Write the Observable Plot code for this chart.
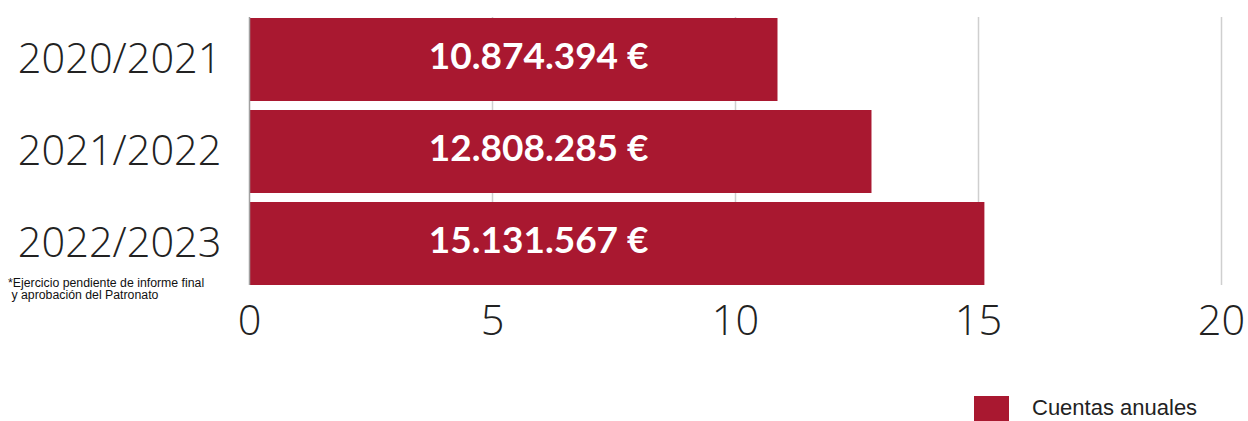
<!DOCTYPE html>
<html>
<head>
<meta charset="utf-8">
<script src="https://cdn.jsdelivr.net/npm/d3@7"></script>
<script src="https://cdn.jsdelivr.net/npm/@observablehq/plot@0.6"></script>
<style>
  body { margin: 0; background: #fff; }
  #wrap { position: relative; width: 1248px; height: 421px; overflow: hidden; }
  #note { position: absolute; left: 8px; top: 277px; font-family: "Liberation Sans", Arial, sans-serif; font-size: 12.3px; line-height: 12px; color: #111; }
  #legend { position: absolute; left: 974px; top: 395px; display: flex; align-items: center; font-family: "Liberation Sans", Arial, sans-serif; font-size: 22px; color: #222; }
  #legend .sw { width: 35px; height: 25px; background: #a91830; margin-right: 23px; }
</style>
</head>
<body>
<div id="wrap">
  <div id="chart"></div>
  <div id="note">*Ejercicio pendiente de informe final<br>&nbsp;y aprobación del Patronato</div>
  <div id="legend"><div class="sw"></div><span>Cuentas anuales</span></div>
</div>
<script>
const years = ["2020/2021", "2021/2022", "2022/2023"];
const values = [10.874394, 12.808285, 15.131567];
const labels = ["10.874.394 €", "12.808.285 €", "15.131.567 €"];
const xTicks = [0, 5, 10, 15, 20];
const labelPos = 5.95;

const data = years.map((y, i) => ({year: y, value: values[i], label: labels[i]}));

const chart = Plot.plot({
  width: 1248,
  height: 370,
  marginLeft: 249,
  marginRight: 27,
  marginTop: 17,
  marginBottom: 85,
  style: {fontFamily: "'Open Sans', sans-serif", background: "transparent"},
  x: {domain: [0, 20], ticks: xTicks, label: null},
  y: {domain: years, paddingInner: 0.1, paddingOuter: 0, label: null},
  marks: [
    Plot.ruleX(xTicks.filter(d => d > 0), {stroke: "#cfcfcf", strokeWidth: 1.5}),
    Plot.barX(data, {x: "value", y: "year", fill: "#a91830"}),
    Plot.ruleX([0], {stroke: "#a0a0a0", strokeWidth: 1.5}),
    Plot.text(data, {x: () => labelPos, y: "year", text: "label", dy: -3, fill: "white", fontSize: 37, fontWeight: "bold", fontFamily: "Lato, sans-serif"}),
    Plot.axisX({ticks: xTicks, tickSize: 0, tickPadding: 20, fontSize: 41.5, fontWeight: 300, fill: "#222", tickFormat: d => String(d), label: null}),
    Plot.axisY({tickSize: 0, tickPadding: 28, fontSize: 41.5, fontWeight: 300, fill: "#222", label: null})
  ]
});
document.getElementById("chart").appendChild(chart);
</script>
</body>
</html>
